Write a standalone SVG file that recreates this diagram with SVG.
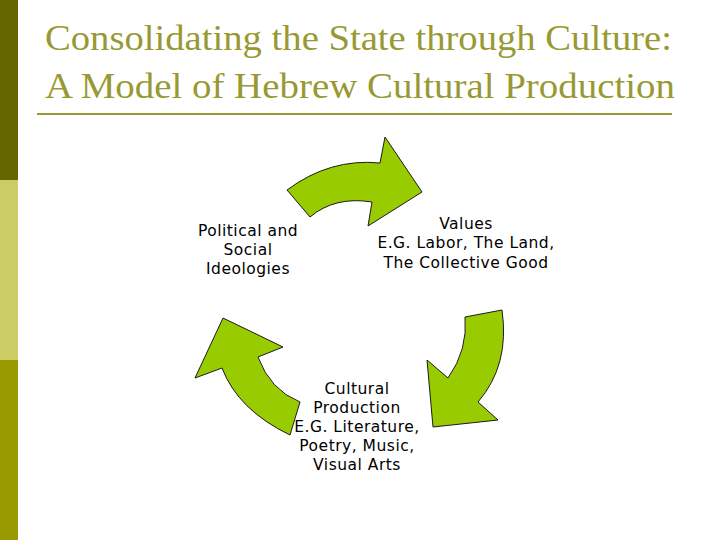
<svg xmlns="http://www.w3.org/2000/svg" width="720" height="540" viewBox="0 0 720 540">
<style>
.title{font-family:"Liberation Serif",serif;font-size:36px;fill:#999933}
.lbl{font-family:"DejaVu Sans",Verdana,sans-serif;font-size:15.5px;letter-spacing:0.5px;fill:#000;text-anchor:middle}
.arrow{fill:#99CC00;stroke:#1a1a1a;stroke-width:1;stroke-linejoin:miter}
</style>
<rect width="720" height="540" fill="#fff"/>
<g id="sidebar">
<rect x="0" y="0" width="18" height="180" fill="#666600"/>
<rect x="0" y="180" width="18" height="180" fill="#CCCC66"/>
<rect x="0" y="360" width="18" height="180" fill="#999900"/>
</g>
<g id="title">
<text class="title" x="45" y="50" textLength="627" lengthAdjust="spacingAndGlyphs">Consolidating the State through Culture:</text>
<text class="title" x="45" y="98" textLength="630" lengthAdjust="spacingAndGlyphs">A Model of Hebrew Cultural Production</text>
<line x1="37" y1="114" x2="672" y2="114" stroke="#999933" stroke-width="2"/>
</g>
<g id="connectors">
<path class="arrow" d="M287,190 Q330,158 380,163 L385,137 L422,192 L368,226 L372,202 Q335,196 310,217 Z"/>
<path class="arrow" d="M502,310 Q510,365 478,402 L498,420 L433,427 L427,360 L448,378 Q468,350 465,317 Z"/>
<path class="arrow" d="M290,435 Q238,410 222,368 L195,378 L223,318 L283,347 L258,357 Q270,390 300,402 Z"/>
</g>
<g id="node-ideologies">
<text class="lbl" x="248" y="236">Political and</text>
<text class="lbl" x="248" y="255">Social</text>
<text class="lbl" x="248" y="274">Ideologies</text>
</g>
<g id="node-values">
<text class="lbl" x="466" y="229">Values</text>
<text class="lbl" x="466" y="248">E.G. Labor, The Land,</text>
<text class="lbl" x="466" y="268">The Collective Good</text>
</g>
<g id="node-production">
<text class="lbl" x="357" y="394">Cultural</text>
<text class="lbl" x="357" y="413">Production</text>
<text class="lbl" x="357" y="432">E.G. Literature,</text>
<text class="lbl" x="357" y="451">Poetry, Music,</text>
<text class="lbl" x="357" y="470">Visual Arts</text>
</g>
</svg>
